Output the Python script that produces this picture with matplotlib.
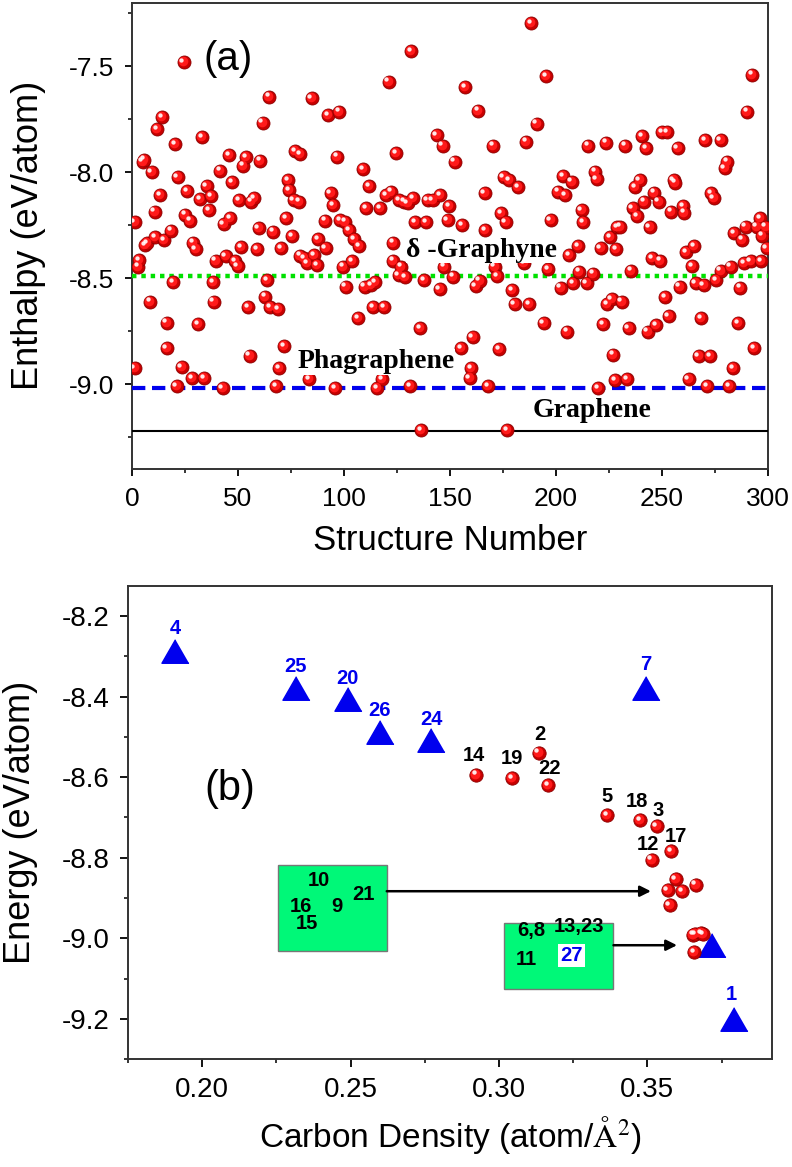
import matplotlib
matplotlib.use('Agg')
import matplotlib.pyplot as plt
from matplotlib.patches import Rectangle
from matplotlib.transforms import ScaledTranslation
from matplotlib.ticker import MultipleLocator

plt.rcParams['font.family'] = ['Liberation Sans', 'DejaVu Sans']

# ---- panel (a): enthalpy of the searched structures ----
struct_no = [1.3, 1.3, 3.0, 3.2, 5.0, 5.7, 6.3, 7.3, 8.4, 9.2, 10.7, 11.0, 12.0, 14.2, 13.3, 15.2,
             16.3, 16.3, 18.3, 19.4, 20.2, 21.0, 21.5, 23.4, 24.3, 25.0, 26.0, 27.3, 28.4, 28.9,
             30.0, 31.3, 32.2, 33.2, 34.1, 35.2, 36.3, 37.3, 38.4, 38.5, 39.5, 41.5, 42.7, 43.3,
             44.2, 45.8, 46.4, 47.4, 48.7, 49.9, 50.6, 51.5, 52.6, 53.7, 54.7, 55.5, 56.2, 57.5,
             58.9, 59.7, 60.5, 61.6, 62.9, 63.8, 64.8, 65.2, 66.5, 67.9, 68.9, 69.5, 70.5, 71.7,
             72.7, 73.6, 74.2, 75.5, 76.3, 77.0,
             78.7, 79.5, 79.5, 81.1, 82.7, 83.5, 84.7, 85.8, 87.4, 87.9, 91.0, 91.4, 92.6, 93.7,
             94.8, 95.8, 96.9, 97.7, 98.2, 100.5, 99.6, 100.8, 102.4, 104.0, 104.8, 107.2, 106.8,
             109.0, 109.8, 110.6, 111.9, 112.7, 114.7, 113.8, 115.8, 117.1, 117.9, 119.0, 119.8,
             122.2, 121.1, 123.3, 123.3, 124.8, 126.1, 128.5, 130.1, 125.8, 126.9, 129.0, 131.2,
             131.6, 132.7, 133.7, 135.9, 136.4, 138.0, 138.7, 139.5, 141.9, 143.8, 145.4, 146.6,
             145.1, 147.4, 149.0, 149.8, 151.4, 152.2,
             155.3, 155.8, 157.2, 159.3, 160.0, 160.8, 162.1, 164.0, 163.2, 166.4, 166.8, 167.9,
             170.3, 171.1, 172.2, 173.2, 174.3, 176.3, 175.4, 177.9, 182.2, 176.9, 179.5, 180.6,
             184.9, 186.1, 187.4, 188.5, 190.9, 194.3, 195.3, 196.4, 197.5, 201.1, 203.5, 204.3,
             207.4, 202.2, 205.4, 206.3, 208.2, 211.1, 214.5, 217.7, 210.6, 212.2, 213.0, 215.3,
             218.5, 219.3, 220.1, 221.2, 222.4, 223.7, 224.3, 226.4, 225.6, 227.2, 228.0, 228.8,
             228.4, 233.5, 230.3, 231.1, 232.7, 234.3, 235.4, 236.3, 238.5, 237.4, 239.5, 240.6,
             242.6, 241.7, 243.3, 247.4, 244.2, 245.3, 249.3, 246.4, 248.5, 250.1, 252.4, 251.6,
             253.2, 254.3, 255.6, 256.4, 257.5, 258.4, 260.0, 260.7, 261.6, 265.4, 262.7, 264.3,
             265.9, 269.8, 268.5, 267.4, 272.7, 270.6, 271.4, 273.3, 274.5, 275.8, 277.7, 277.7,
             279.6, 280.9, 281.7, 282.5, 283.7, 284.3, 285.9, 286.9, 288.0, 288.8, 291.9, 289.6,
             290.4, 292.7, 293.5, 294.8, 296.4, 297.0, 297.5, 299.0, 299.5]
enthalpy = [-8.925, -8.237, -8.445, -8.414, -7.95, -7.94, -8.343, -8.335, -8.61, -8.0, -8.186, -8.307,
            -7.797, -7.74, -8.107, -8.32, -8.709, -8.83, -8.275, -8.52, -7.866, -9.01, -8.024, -8.92,
            -7.48, -8.2, -8.09, -8.228, -8.97, -8.332, -8.363, -8.715, -8.126, -7.835, -8.97, -8.064,
            -8.178, -8.112, -8.52, -8.61, -8.417, -7.992, -9.02, -8.244, -8.397, -7.918, -8.217,
            -8.047, -8.421, -8.442, -8.13, -8.354, -7.969, -7.929, -8.637, -8.865, -8.138, -8.123,
            -8.363, -8.264, -7.945, -7.766, -8.587, -8.51, -7.643, -8.637, -8.28, -9.01, -8.646,
            -8.925, -8.358, -8.82, -8.217, -8.036, -8.083, -8.303, -8.13, -7.9,
            -8.138, -7.915, -8.394, -8.405, -8.429, -8.976, -7.652, -8.39, -8.437, -8.316, -8.228,
            -8.358, -7.73, -8.099, -8.154, -9.02, -7.926, -7.714, -8.225, -8.233, -8.445, -8.54,
            -8.272, -8.421, -8.316, -8.35, -8.689, -7.986, -8.54, -8.17, -8.064, -8.531, -8.52,
            -8.637, -9.02, -8.17, -8.976, -8.637, -8.107, -8.091, -7.572, -8.332, -8.417, -7.91,
            -8.13, -8.138, -8.146, -8.484, -8.445, -8.495, -9.01, -7.428, -8.123, -8.237, -8.736,
            -9.215, -8.51, -8.237, -8.13, -8.13, -7.824, -8.107, -7.874, -8.552, -8.445, -8.225,
            -8.159, -8.492, -7.95,
            -8.83, -8.25, -7.599, -8.972, -8.925, -8.778, -8.536, -8.512, -7.709, -8.099, -8.272,
            -9.01, -7.874, -8.445, -8.489, -8.835, -8.193, -8.237, -8.024, -8.036, -8.071, -9.215,
            -8.555, -8.621, -8.43, -7.855, -8.621, -7.297, -7.77, -8.712, -7.546, -8.458, -8.225,
            -8.091, -8.017, -8.107, -8.044, -8.544, -8.752, -8.39, -8.524, -8.469, -8.524, -8.479,
            -8.347, -8.178, -8.237, -7.874, -7.997, -8.033, -9.02, -8.358, -8.715, -7.86, -8.621,
            -8.599, -8.307, -8.861, -8.98, -8.26,
            -8.363, -8.976, -8.256, -8.61, -7.875, -8.736, -8.464, -8.17, -8.206, -8.071, -8.036,
            -7.828, -7.887, -8.138, -8.752, -8.72, -8.259, -8.406, -8.417, -8.096, -8.138, -7.81,
            -7.81, -8.59, -8.678, -8.186, -8.036, -8.049, -7.887, -8.54, -8.159, -8.19, -8.376,
            -8.347, -8.976, -8.442, -8.524, -8.531, -8.689, -8.866, -8.866, -7.85, -9.008, -8.099,
            -8.123, -8.508, -8.464, -7.85, -7.981, -7.95, -9.01, -8.445, -8.925, -8.288, -8.712,
            -8.544, -8.318, -8.429, -8.421, -8.256, -7.714, -7.54, -8.83, -8.256, -8.217, -8.421,
            -8.299, -8.256, -8.358]

ref_names = ['\u03b4 -Graphyne', 'Phagraphene', 'Graphene']
ref_enthalpy = [-8.49, -9.02, -9.22]

# ---- panel (b): energy vs carbon density ----
tri_labels = ['4', '25', '20', '26', '24', '7', '27', '1']
tri_density = [0.1909, 0.2315, 0.2491, 0.2598, 0.2772, 0.3496, 0.3717, 0.3792]
tri_energy = [-8.288, -8.379, -8.407, -8.487, -8.509, -8.379, -9.016, -9.200]

ball_labels = ['14', '19', '2', '22', '5', '18', '3', '17', '12']
ball_density = [0.2924, 0.3044, 0.3134, 0.3165, 0.3364, 0.3476, 0.3531, 0.3581, 0.3515]
ball_energy = [-8.594, -8.602, -8.539, -8.619, -8.695, -8.707, -8.721, -8.784, -8.805]

group1_labels = ['10', '16', '9', '21', '15']
group1_density = [0.3595, 0.3568, 0.3617, 0.3663, 0.3575]
group1_energy = [-8.853, -8.881, -8.882, -8.867, -8.917]

group2_labels = ['6,8', '13,23', '11']
group2_density = [0.3654, 0.3660, 0.3682, 0.3688, 0.3657]
group2_energy = [-8.991, -8.990, -8.987, -8.990, -9.035]

fig = plt.figure(figsize=(7.92, 11.67), dpi=100)


def balls(ax, x, y, s=88):
    # shaded red spheres: dark rim, lighter body, white glint
    ax.scatter(x, y, s=s, c='#c80000', edgecolors='#8a0000', linewidths=0.6, zorder=4)
    mid = ax.transData + ScaledTranslation(-1.0 / 100, 1.0 / 100, fig.dpi_scale_trans)
    ax.scatter(x, y, s=s * 0.55, c='#ff1a1a', linewidths=0, zorder=4.5, transform=mid)
    hl = ax.transData + ScaledTranslation(-2.3 / 100, 2.3 / 100, fig.dpi_scale_trans)
    ax.scatter(x, y, s=s * 0.11, c='white', alpha=0.9, linewidths=0, zorder=5, transform=hl)


def style(ax, lw=1.4):
    for sp in ax.spines.values():
        sp.set_linewidth(lw)
        sp.set_color('#333333')
    ax.tick_params(which='major', direction='out', length=5, width=1.3)
    ax.tick_params(which='minor', direction='out', length=3, width=1.1)


# ---------------- (a) ----------------
ax1 = fig.add_axes([0.1667, 0.5981, 0.8027, 0.3996])
balls(ax1, struct_no, enthalpy)
ax1.axhline(ref_enthalpy[0], color='#00e000', lw=3.2, ls=(0, (1, 1.1)), zorder=3)
ax1.axhline(ref_enthalpy[1], color='#0000ee', lw=3.0, ls=(0, (3.2, 1.6)), zorder=3)
ax1.axhline(ref_enthalpy[2], color='black', lw=1.5, zorder=3)

tb = dict(facecolor='white', edgecolor='none', pad=0.3)
ax1.text(129.5, -8.40, ref_names[0], family='Liberation Serif', weight='bold', fontsize=20,
         ha='left', va='baseline', bbox=tb, zorder=6)
ax1.text(78, -8.925, ref_names[1], family='Liberation Serif', weight='bold', fontsize=20,
         ha='left', va='baseline', bbox=tb, zorder=6)
ax1.text(189, -9.153, ref_names[2], family='Liberation Serif', weight='bold', fontsize=20,
         ha='left', va='baseline', bbox=tb, zorder=6)
ax1.text(33.6, -7.517, '(a)', fontsize=29, ha='left', va='baseline')

ax1.set_xlim(0, 300)
ax1.set_ylim(-9.4, -7.2)
ax1.xaxis.set_major_locator(MultipleLocator(50))
ax1.xaxis.set_minor_locator(MultipleLocator(25))
ax1.yaxis.set_major_locator(MultipleLocator(0.5))
ax1.yaxis.set_minor_locator(MultipleLocator(0.25))
ax1.yaxis.set_major_formatter(plt.FuncFormatter(lambda v, p: f'{v:.1f}'))
style(ax1)
ax1.tick_params(which='major', labelsize=19, pad=8)
ax1.set_xlabel('Structure Number', fontsize=25)
ax1.set_ylabel('Enthalpy (eV/atom)', fontsize=26)
ax1.xaxis.set_label_coords(0.5, -0.118)
ax1.yaxis.set_label_coords(-0.135, 0.5)

# ---------------- (b) ----------------
ax2 = fig.add_axes([0.1616, 0.0923, 0.8131, 0.4058])
ax2.add_patch(Rectangle((0.2255, -9.032), 0.2622 - 0.2255, 0.213, facecolor='#00f878',
                        edgecolor='#777777', lw=1.0, zorder=2))
ax2.add_patch(Rectangle((0.3017, -9.126), 0.3386 - 0.3017, 0.164, facecolor='#00f878',
                        edgecolor='#777777', lw=1.0, zorder=2))
ax2.annotate('', xy=(0.3512, -8.883), xytext=(0.2622, -8.883),
             arrowprops=dict(arrowstyle='-|>', color='black', lw=1.8, mutation_scale=16,
                             shrinkA=0, shrinkB=0), zorder=3)
ax2.annotate('', xy=(0.3600, -9.017), xytext=(0.3386, -9.017),
             arrowprops=dict(arrowstyle='-|>', color='black', lw=1.8, mutation_scale=16,
                             shrinkA=0, shrinkB=0), zorder=3)

tri_marker = [(0, 0.87), (-1, -0.87), (1, -0.87)]
ax2.plot(tri_density, tri_energy, ls='none', marker=tri_marker, ms=19.5, color='#0000ee',
         mec='#0000ee', zorder=4)
balls(ax2, ball_density + group1_density + group2_density,
      ball_energy + group1_energy + group2_energy, s=92)

lab = dict(fontsize=14.5, weight='bold', ha='center', va='baseline', textcoords='offset points')
tri_off = {'4': (0, 12.5), '25': (0, 11.5), '20': (0, 11), '26': (0, 11.5), '24': (0, 11),
           '7': (0, 13), '27': (0, 11), '1': (-2, 14)}
for name, x, y in zip(tri_labels, tri_density, tri_energy):
    if name == '27':
        continue
    ax2.annotate(name, (x, y), xytext=tri_off[name], color='#0000ee', zorder=6, **lab)
ball_off = {'14': (-1.5, 10), '19': (0, 10), '2': (1, 9), '22': (1.5, 8), '5': (0, 10),
            '18': (-2, 9.5), '3': (1.5, 7), '17': (3, 7), '12': (-3, 7)}
for name, x, y in zip(ball_labels, ball_density, ball_energy):
    ax2.annotate(name, (x, y), xytext=ball_off[name], color='black', zorder=6, **lab)

box = dict(fontsize=14.5, weight='bold', ha='center', va='baseline', zorder=6)
ax2.text(0.2394, -8.871, group1_labels[0], **box)
ax2.text(0.2334, -8.935, group1_labels[1], **box)
ax2.text(0.2454, -8.935, group1_labels[2], **box)
ax2.text(0.2543, -8.904, group1_labels[3], **box)
ax2.text(0.2354, -8.976, group1_labels[4], **box)
ax2.text(0.3110, -8.994, group2_labels[0], **box)
ax2.text(0.3271, -8.983, group2_labels[1], **box)
ax2.text(0.3091, -9.066, group2_labels[2], **box)
ax2.text(0.3244, -9.056, tri_labels[6], color='#0000ee',
         bbox=dict(facecolor='white', edgecolor='none', pad=1.5), **box)

ax2.text(0.2008, -8.656, '(b)', fontsize=30, ha='left', va='baseline')

ax2.set_xlim(0.175, 0.392)
ax2.set_ylim(-9.3, -8.125)
ax2.xaxis.set_major_locator(MultipleLocator(0.05))
ax2.xaxis.set_minor_locator(MultipleLocator(0.025))
ax2.yaxis.set_major_locator(MultipleLocator(0.2))
ax2.yaxis.set_minor_locator(MultipleLocator(0.1))
ax2.xaxis.set_major_formatter(plt.FuncFormatter(lambda v, p: f'{v:.2f}'))
ax2.yaxis.set_major_formatter(plt.FuncFormatter(lambda v, p: f'{v:.1f}'))
style(ax2)
ax2.tick_params(which='major', labelsize=20, pad=7, length=6)
ax2.set_xlabel('Carbon Density (atom/$\\mathrm{\\AA}^2$)', fontsize=24, math_fontfamily='stix')
ax2.set_ylabel('Energy (eV/atom)', fontsize=26)
ax2.xaxis.set_label_coords(0.5, -0.115)
ax2.yaxis.set_label_coords(-0.14, 0.5)

fig.savefig('out.png', dpi=100)
